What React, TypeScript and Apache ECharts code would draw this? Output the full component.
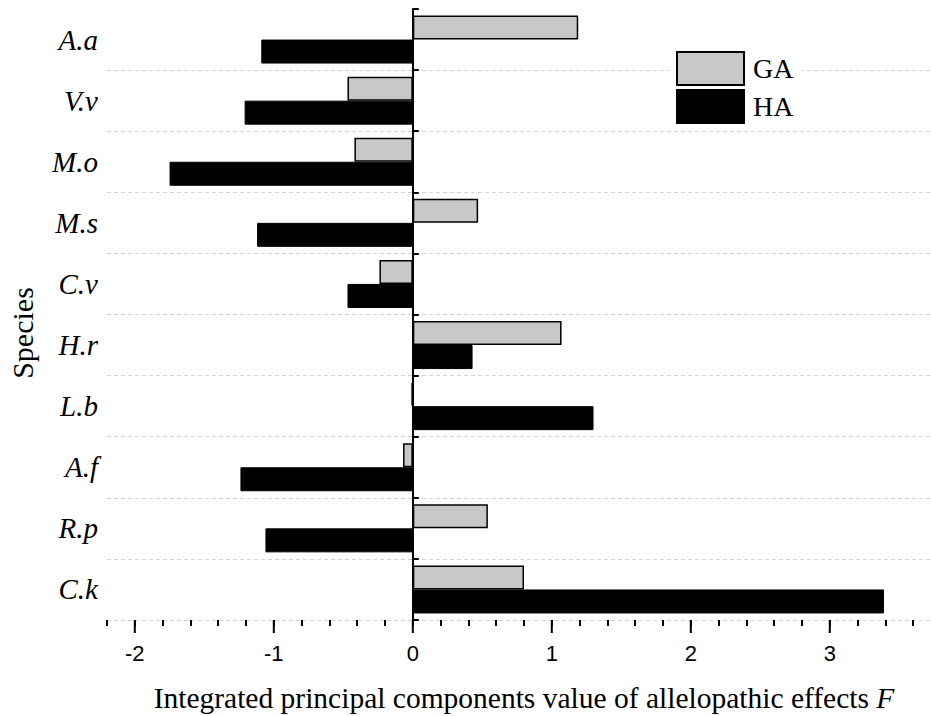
import React, { useEffect, useRef } from "react";
import * as echarts from "echarts";

const species = ["A.a", "V.v", "M.o", "M.s", "C.v", "H.r", "L.b", "A.f", "R.p", "C.k"];
const gaValues = [1.19, -0.47, -0.42, 0.47, -0.24, 1.07, -0.01, -0.07, 0.54, 0.8];
const haValues = [-1.09, -1.21, -1.75, -1.12, -0.47, 0.43, 1.3, -1.24, -1.06, 3.39];
const majorTicks = [-2, -1, 0, 1, 2, 3];

const SERIF = "'Liberation Serif', 'Times New Roman', serif";
const SANS = "'Liberation Sans', Arial, sans-serif";

export default function App() {
  const ref = useRef<HTMLDivElement>(null);
  useEffect(() => {
    if (!ref.current) return;
    const chart = echarts.init(ref.current, null, { renderer: "svg" });
    const catAxisBase = {
      type: "category",
      data: species,
      inverse: true,
      gridIndex: 0,
    };
    chart.setOption({
      animation: false,
      backgroundColor: "#fff",
      grid: { left: 107, top: 9, width: 834, height: 611, containLabel: false, outerBoundsMode: "none" },
      legend: {
        data: ["GA", "HA"],
        orient: "vertical",
        left: 670,
        top: 45,
        padding: [6, 8, 6, 6],
        backgroundColor: "#fff",
        itemWidth: 67,
        itemHeight: 33,
        itemGap: 3,
        icon: "rect",
        textStyle: { fontFamily: SERIF, fontSize: 28, color: "#000", padding: [0, 0, 0, 4] },
      },
      xAxis: {
        type: "value",
        min: -2.2,
        max: 3.8,
        interval: 0.2,
        axisLine: { onZero: false, lineStyle: { color: "#000", width: 2 } },
        axisTick: { show: true, length: 6, lineStyle: { color: "#000", width: 2 } },
        splitLine: { show: false },
        axisLabel: {
          fontFamily: SANS,
          fontSize: 22,
          color: "#000",
          margin: 22,
          showMinLabel: true,
          showMaxLabel: true,
          formatter: (v: number) =>
            Math.abs(v - Math.round(v)) < 1e-6 && v < 3.5 ? String(Math.round(v)) : "",
        },
        name: "Integrated principal components value of allelopathic effects {i|F}",
        nameLocation: "middle",
        nameGap: 63,
        nameTextStyle: {
          fontFamily: SERIF,
          fontSize: 29.5,
          color: "#000",
          rich: { i: { fontFamily: SERIF, fontSize: 29.5, fontStyle: "italic", color: "#000" } },
        },
      },
      yAxis: [
        {
          ...catAxisBase,
          axisLine: { show: false, onZero: false },
          axisTick: { show: false },
          axisLabel: {
            fontFamily: SERIF,
            fontSize: 29,
            fontStyle: "italic",
            color: "#000",
            margin: 9,
          },
          splitLine: {
            show: true,
            interval: (i: number) => i !== 0,
            lineStyle: { color: "#d4d4d4", type: [4, 3], width: 1 },
          },
        },
        {
          ...catAxisBase,
          axisLine: { show: true, onZero: true, lineStyle: { color: "#000", width: 2 } },
          axisTick: { show: true, inside: false, length: 6, lineStyle: { color: "#000", width: 2 } },
          axisLabel: { show: false },
          splitLine: { show: false },
        },
        {
          ...catAxisBase,
          axisLine: { show: true, onZero: true, lineStyle: { color: "#000", width: 2 } },
          axisTick: { show: true, inside: true, length: 8, lineStyle: { color: "#000", width: 2 } },
          axisLabel: { show: false },
          splitLine: { show: false },
        },
      ],
      series: [
        {
          name: "GA",
          type: "bar",
          yAxisIndex: 0,
          data: gaValues,
          barWidth: 24,
          barGap: "0%",
          itemStyle: { color: "#c8c8c8", borderColor: "#000", borderWidth: 1.5 },
        },
        {
          name: "HA",
          type: "bar",
          yAxisIndex: 0,
          data: haValues,
          barWidth: 24,
          barGap: "0%",
          itemStyle: { color: "#000", borderColor: "#000", borderWidth: 1 },
        },
        {
          type: "custom",
          xAxisIndex: 0,
          yAxisIndex: 0,
          silent: true,
          clip: false,
          data: majorTicks.map((v) => [v, species[0]]),
          renderItem: (params: any, api: any) => {
            const p = api.coord([api.value(0), species[0]]);
            const cs = params.coordSys;
            const yb = cs.y + cs.height;
            return {
              type: "line",
              shape: { x1: p[0], y1: yb, x2: p[0], y2: yb + 13 },
              style: { stroke: "#000", lineWidth: 2 },
            };
          },
        },
      ],
      graphic: [
        {
          type: "text",
          x: 22,
          y: 333,
          rotation: Math.PI / 2,
          style: {
            text: "Species",
            fontFamily: SERIF,
            fontSize: 30,
            fill: "#000",
            align: "center",
            verticalAlign: "middle",
          },
        },
      ],
    });
    return () => chart.dispose();
  }, []);
  return (
    <div
      ref={ref}
      style={{ position: "fixed", left: 0, top: 0, width: 931, height: 716, background: "#fff" }}
    />
  );
}
